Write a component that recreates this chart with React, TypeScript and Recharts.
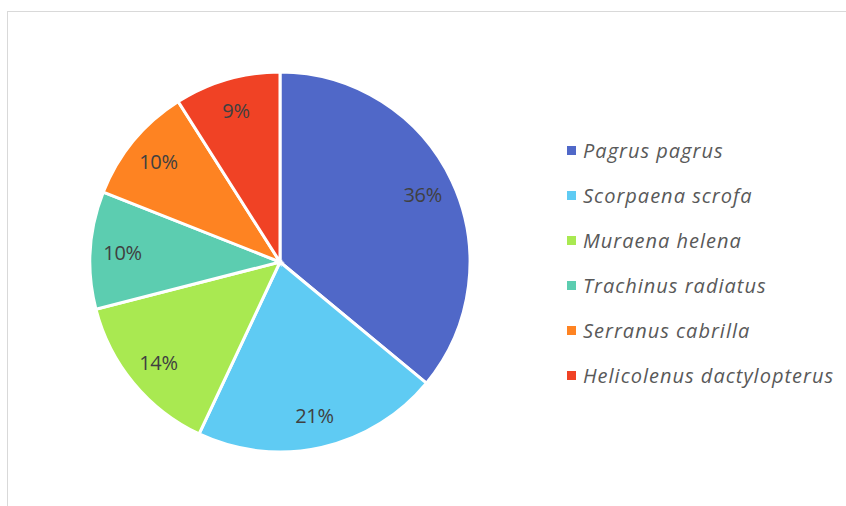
import { PieChart, Pie, Cell, Legend } from "recharts";

const SPECIES = [
  "Pagrus pagrus",
  "Scorpaena scrofa",
  "Muraena helena",
  "Trachinus radiatus",
  "Serranus cabrilla",
  "Helicolenus dactylopterus",
];

const SHARES = [36, 21, 14, 10, 10, 9];

const COLORS = ["#5068C8", "#5FCBF3", "#A9E951", "#5CCDB0", "#FE8322", "#F04225"];

const data = SPECIES.map((name, i) => ({ name, value: SHARES[i] }));

const RAD = Math.PI / 180;

function renderLabel(props: any) {
  const { cx, cy, midAngle, outerRadius, percent } = props;
  const r = outerRadius * 0.83;
  const x = cx + r * Math.cos(-midAngle * RAD);
  const y = cy + r * Math.sin(-midAngle * RAD);
  return (
    <text
      x={x}
      y={y}
      fill="#404040"
      textAnchor="middle"
      dominantBaseline="central"
      fontSize={20}
      letterSpacing={-0.3}
      fontFamily="'Open Sans', sans-serif"
    >
      {`${Math.round(percent * 100)}%`}
    </text>
  );
}

function renderLegend() {
  return (
    <div
      style={{
        fontFamily: "'Open Sans', sans-serif",
        fontStyle: "italic",
        fontSize: 20,
        letterSpacing: 1,
        color: "#595959",
      }}
    >
      {SPECIES.map((name, i) => (
        <div key={name} style={{ height: 45, display: "flex", alignItems: "center", whiteSpace: "nowrap" }}>
          <span style={{ width: 9, height: 9, background: COLORS[i], display: "inline-block", marginRight: 7 }} />
          <span>{name}</span>
        </div>
      ))}
    </div>
  );
}

export default function App() {
  return (
    <div style={{ position: "absolute", left: 0, top: 0, width: 846, height: 506, background: "#fff", overflow: "hidden" }}>
      <div
        style={{
          position: "absolute",
          left: 7,
          top: 11,
          width: 900,
          height: 600,
          borderTop: "1px solid #d9d9d9",
          borderLeft: "1px solid #d9d9d9",
        }}
      />
      <PieChart
        width={846}
        height={506}
        margin={{ top: 0, right: 0, bottom: 0, left: 0 }}
        style={{ position: "absolute", left: 0, top: 0 }}
      >
        <Pie
          data={data}
          dataKey="value"
          nameKey="name"
          cx={280}
          cy={262}
          outerRadius={190}
          startAngle={90}
          endAngle={-270}
          stroke="#ffffff"
          strokeWidth={3}
          label={renderLabel}
          labelLine={false}
          isAnimationActive={false}
        >
          {data.map((d, i) => (
            <Cell key={d.name} fill={COLORS[i]} />
          ))}
        </Pie>
        <Legend
          layout="vertical"
          content={renderLegend}
          wrapperStyle={{ left: 567, top: 128, width: 279 }}
        />
      </PieChart>
    </div>
  );
}
